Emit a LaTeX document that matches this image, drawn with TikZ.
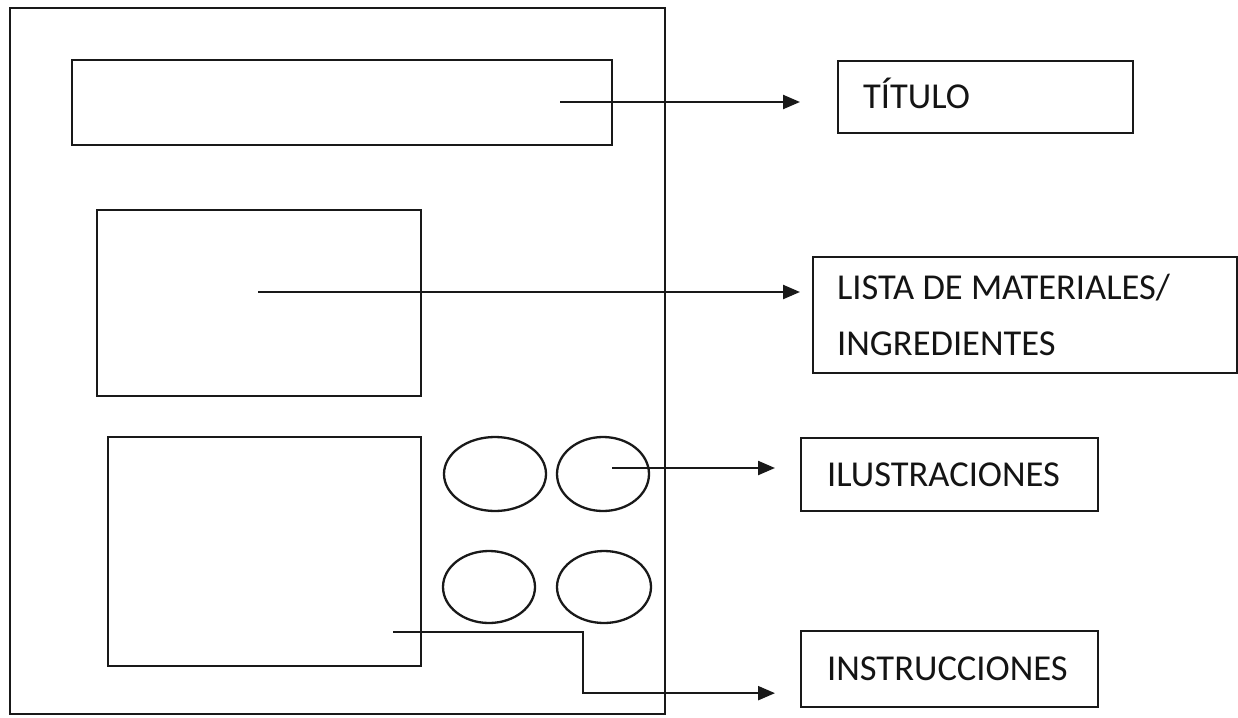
\documentclass[tikz,border=0pt]{standalone}
\usepackage{fontspec}
\setmainfont{Carlito}
\usetikzlibrary{arrows.meta}
\begin{document}
\begin{tikzpicture}[x=1pt,y=-1pt,
  line width=2.3pt, draw=black!90,
  frame/.style={draw, line width=2.3pt},
  lblbox/.style={draw, line width=2.3pt, rectangle, anchor=north west, inner sep=0pt},
  lbltext/.style={anchor=west, inner sep=0pt, align=left, font=\fontsize{36.5}{56}\selectfont, text=black!92},
  arr/.style={draw, line width=2.3pt, -{Triangle[length=17pt,width=14pt]}}
]
\useasboundingbox (0,0) rectangle (1238,717);
% outer page
\draw[frame] (10,8) rectangle (665,714);
% inner boxes
\draw[frame] (72,60) rectangle (612,145);
\draw[frame] (97,210) rectangle (421,396);
\draw[frame] (108,437) rectangle (421,666);
% ellipses
\draw[frame] (495,474) ellipse [x radius=51, y radius=37];
\draw[frame] (603,474) ellipse [x radius=46, y radius=37];
\draw[frame] (489,587) ellipse [x radius=46, y radius=36];
\draw[frame] (604,587) ellipse [x radius=47, y radius=36];
% label boxes
\node[lblbox, minimum width=295pt, minimum height=72pt] (tit) at (837,60) {};
\node[lblbox, minimum width=424pt, minimum height=116pt] (mat) at (812,256) {};
\node[lblbox, minimum width=297pt, minimum height=73pt] (ilu) at (800,437) {};
\node[lblbox, minimum width=297pt, minimum height=76pt] (ins) at (800,630) {};
\node[lbltext] (titt) at ([xshift=25pt,yshift=4pt]tit.west) {TÍTULO};
\node[lbltext] (matt) at ([xshift=24pt,yshift=0pt]mat.west) {LISTA DE MATERIALES/\\INGREDIENTES};
\node[lbltext] (ilut) at ([xshift=26pt]ilu.west) {ILUSTRACIONES};
\node[lbltext] (inst) at ([xshift=26pt]ins.west) {INSTRUCCIONES};
% start points
\coordinate (s1) at (560,102);
\coordinate (s2) at (258,292);
\coordinate (s3) at (612,468);
\coordinate (s4) at (393,632);
\coordinate (b4) at (583,632);
% arrows
\draw[arr, shorten >=37pt] (s1) -- (s1 -| tit.west);
\draw[arr, shorten >=12pt] (s2) -- (s2 -| mat.west);
\draw[arr, shorten >=25pt] (s3) -- (s3 -| ilu.west);
\draw[arr, shorten >=25pt] (s4) -- (b4) |- ([yshift=-24pt]ins.east -| ins.west);
\end{tikzpicture}
\end{document}
